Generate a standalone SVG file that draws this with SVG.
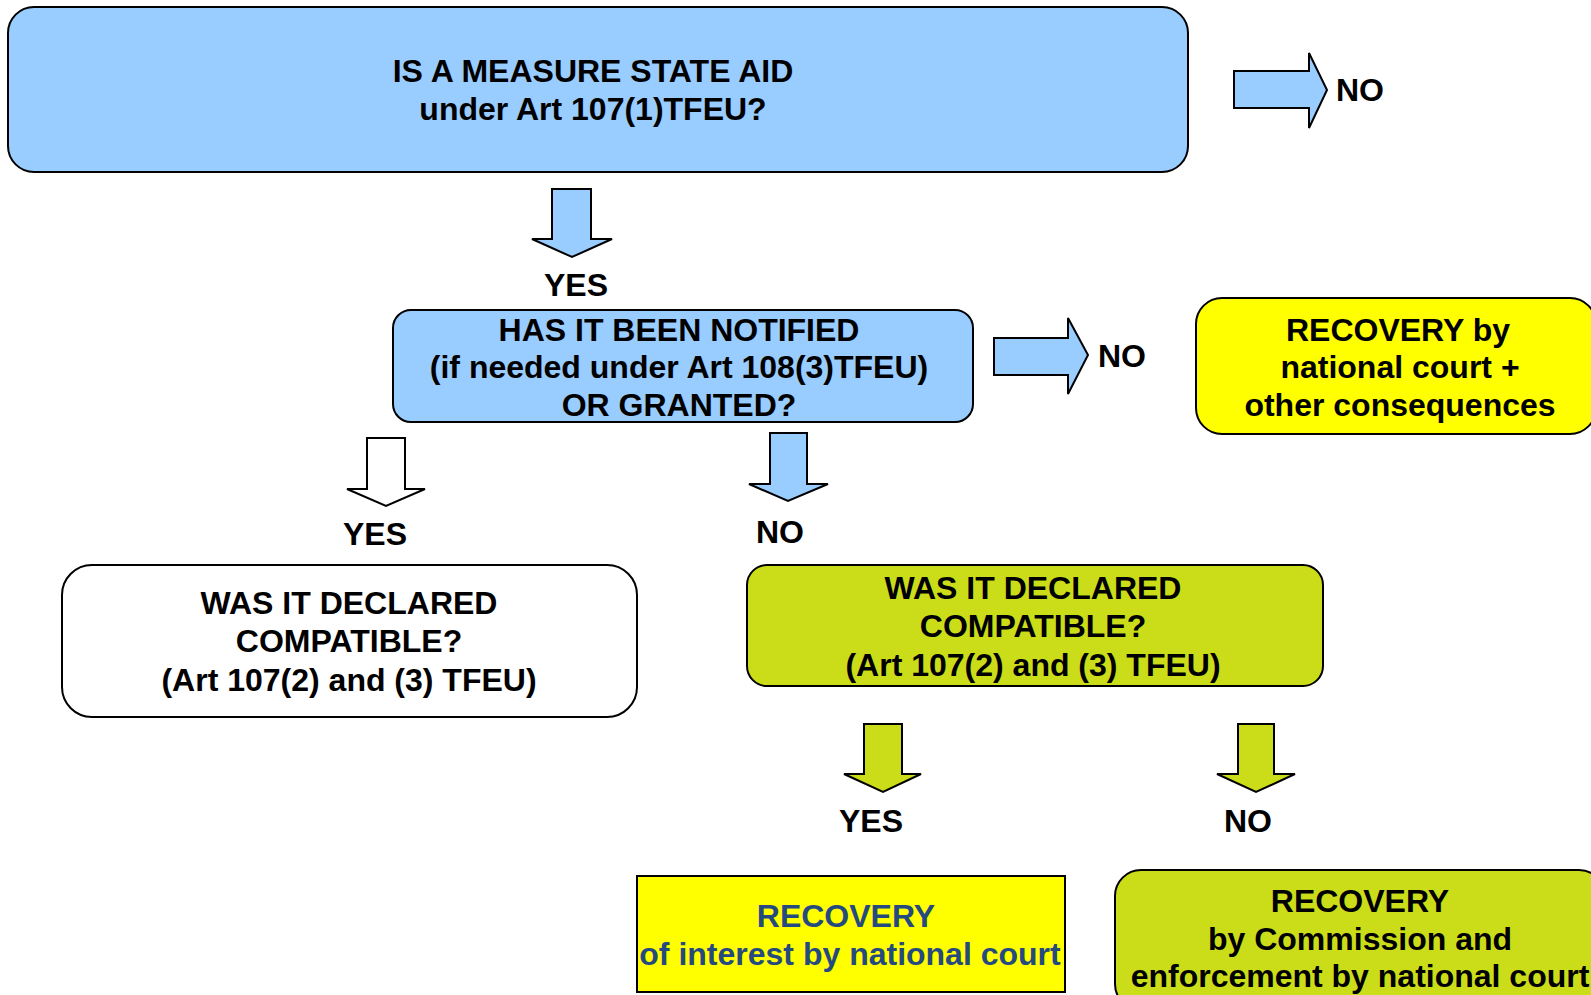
<svg xmlns="http://www.w3.org/2000/svg" width="1591" height="995" viewBox="0 0 1591 995">
<style>
.t{font-family:"Liberation Sans",Arial,sans-serif;font-weight:bold;font-size:32px;fill:#000;text-anchor:middle}
.b{fill:#254a7f}
.box{stroke:#000;stroke-width:2}
.blue{fill:#99ccff}
.yel{fill:#ffff00}
.grn{fill:#cbdd18}
.wht{fill:#ffffff}
.arr{stroke:#000;stroke-width:2;stroke-linejoin:miter}
</style>
<rect width="1591" height="995" fill="#fff"/>
<g id="connectors">
<polygon class="arr blue" points="1234,71 1309,71 1309,53 1327,90 1309,128 1309,108 1234,108"/>
<text class="t" x="1360" y="101">NO</text>
<polygon class="arr blue" points="552,189 591,189 591,239 612,239 572,257 532,239 552,239"/>
<text class="t" x="576" y="296">YES</text>
<polygon class="arr blue" points="994,338 1068,338 1068,318 1088,355 1068,394 1068,375 994,375"/>
<text class="t" x="1122" y="367">NO</text>
<polygon class="arr wht" points="367,438 405,438 405,489 425,489 386,506 347,489 367,489"/>
<text class="t" x="375" y="545">YES</text>
<polygon class="arr blue" points="770,433 807,433 807,484 828,484 788,501 749,484 770,484"/>
<text class="t" x="780" y="543">NO</text>
<polygon class="arr grn" points="864,724 902,724 902,774 921,774 883,792 844,774 864,774"/>
<text class="t" x="871" y="832">YES</text>
<polygon class="arr grn" points="1238,724 1274,724 1274,774 1295,774 1256,792 1217,774 1238,774"/>
<text class="t" x="1248" y="832">NO</text>
</g>
<g id="n1">
<rect class="box blue" x="8" y="7" width="1180" height="165" rx="26"/>
<text class="t" x="593" y="82">IS A MEASURE STATE AID</text>
<text class="t" x="593" y="120">under Art 107(1)TFEU?</text>
</g>
<g id="n2">
<rect class="box blue" x="393" y="310" width="580" height="112" rx="18"/>
<text class="t" x="679" y="341">HAS IT BEEN NOTIFIED</text>
<text class="t" x="679" y="378">(if needed under Art 108(3)TFEU)</text>
<text class="t" x="679" y="416">OR GRANTED?</text>
</g>
<g id="n3">
<rect class="box yel" x="1196" y="298" width="400" height="136" rx="26"/>
<text class="t" x="1398" y="341">RECOVERY by</text>
<text class="t" x="1400" y="378">national court +</text>
<text class="t" x="1400" y="416">other consequences</text>
</g>
<g id="n4">
<rect class="box wht" x="62" y="565" width="575" height="152" rx="30"/>
<text class="t" x="349" y="614">WAS IT DECLARED</text>
<text class="t" x="349" y="652">COMPATIBLE?</text>
<text class="t" x="349" y="691">(Art 107(2) and (3) TFEU)</text>
</g>
<g id="n5">
<rect class="box grn" x="747" y="565" width="576" height="121" rx="20"/>
<text class="t" x="1033" y="599">WAS IT DECLARED</text>
<text class="t" x="1033" y="637">COMPATIBLE?</text>
<text class="t" x="1033" y="676">(Art 107(2) and (3) TFEU)</text>
</g>
<g id="n6">
<rect class="box yel" x="637" y="876" width="428" height="116"/>
<text class="t b" x="846" y="927">RECOVERY</text>
<text class="t b" x="850" y="965">of interest by national court</text>
</g>
<g id="n7">
<rect class="box grn" x="1115" y="870" width="490" height="140" rx="26"/>
<text class="t" x="1360" y="912">RECOVERY</text>
<text class="t" x="1360" y="950">by Commission and</text>
<text class="t" x="1360" y="987">enforcement by national court</text>
</g>
</svg>
